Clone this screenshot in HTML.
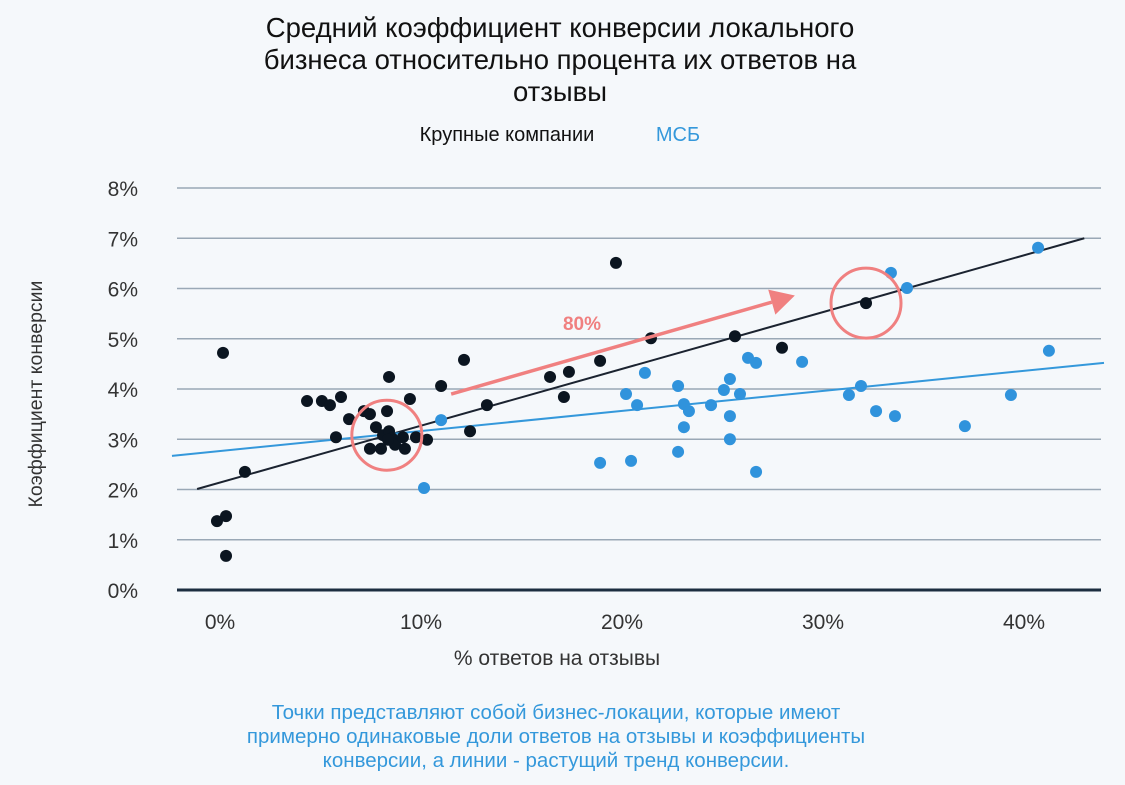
<!DOCTYPE html>
<html><head><meta charset="utf-8"><style>
body{margin:0;background:#f5f8fb;width:1125px;height:785px;overflow:hidden;font-family:"Liberation Sans","Noto Sans CJK SC",sans-serif}
svg{position:absolute;left:0;top:0}
</style></head><body>
<svg id="chart" width="1125" height="785">
<text x="560" y="37" text-anchor="middle" font-size="27.5" fill="#111"><tspan x="560">Средний коэффициент конверсии локального</tspan><tspan x="560" dy="32">бизнеса относительно процента их ответов на</tspan><tspan x="560" dy="32">отзывы</tspan></text>
<text x="507" y="141" text-anchor="middle" font-size="20" fill="#111">Крупные компании</text>
<text x="678" y="141" text-anchor="middle" font-size="20" fill="#3498db">МСБ</text>
<g id="grid"></g>
<g id="yticks"></g>
<g id="xticks"></g>
<g id="marks"></g>
<text x="0" y="0" transform="translate(42,394) rotate(-90)" text-anchor="middle" font-size="19.5" fill="#333">Коэффициент конверсии</text>
<text x="557" y="665" text-anchor="middle" font-size="21" fill="#333">% ответов на отзывы</text>
<text x="556" y="719" text-anchor="middle" font-size="20.5" fill="#3498db"><tspan x="556">Точки представляют собой бизнес-локации, которые имеют</tspan><tspan x="556" dy="24">примерно одинаковые доли ответов на отзывы и коэффициенты</tspan><tspan x="556" dy="24">конверсии, а линии - растущий тренд конверсии.</tspan></text>
</svg>
<script>
const yTicks=[0,1,2,3,4,5,6,7,8];
const xTicks=[0,10,20,30,40];
const largeX=[0.15,-0.15,0.30,0.30,1.24,4.33,5.07,5.47,6.02,5.77,6.42,7.16,7.46,8.41,8.31,9.45,7.76,7.46,8.01,8.11,8.41,8.56,8.71,8.36,9.10,9.20,9.75,10.30,11.00,12.14,12.44,13.28,19.70,16.42,17.36,17.11,18.91,21.44,25.62,27.96,32.14];
const largeY=[4.72,1.37,1.47,0.68,2.35,3.76,3.76,3.68,3.84,3.04,3.40,3.56,3.50,4.24,3.56,3.80,3.24,2.81,2.81,3.08,3.16,3.02,2.89,2.99,3.04,2.81,3.04,2.99,4.06,4.58,3.16,3.68,6.51,4.24,4.34,3.84,4.56,5.01,5.05,4.82,5.71];
const smbX=[11.00,10.15,40.70,33.38,34.18,41.24,28.96,26.27,26.67,25.37,25.07,25.87,21.14,22.79,20.20,20.75,23.08,23.33,24.43,25.37,23.08,25.37,22.79,18.91,20.45,26.67,31.89,31.29,32.64,33.58,37.06,39.35];
const smbY=[3.38,2.03,6.81,6.31,6.01,4.76,4.54,4.62,4.52,4.20,3.98,3.90,4.32,4.06,3.90,3.68,3.70,3.56,3.68,3.46,3.24,3.00,2.75,2.53,2.57,2.35,4.06,3.88,3.56,3.46,3.26,3.88];
const trendLargeX=[-1.14,43.0], trendLargeY=[2.01,7.0];
const trendSmbX=[-2.39,43.98], trendSmbY=[2.67,4.52];
const arrowX=[11.5,28.6], arrowY=[3.9,5.86];
const circleX=[8.3,32.14], circleY=[3.08,5.71];
const X=v=>220+20.1*v, Y=v=>590-50.25*v;
const NS='http://www.w3.org/2000/svg';
function mk(tag,parent,attrs){const e=document.createElementNS(NS,tag);for(const k in attrs)e.setAttribute(k,attrs[k]);parent.appendChild(e);return e;}
const grid=document.getElementById('grid'),yt=document.getElementById('yticks'),xt=document.getElementById('xticks'),m=document.getElementById('marks');
yTicks.forEach(t=>{
 const l=mk('line',grid,{x1:177,x2:1101,y1:Y(t),y2:Y(t),stroke:t===0?'#1c2e40':'#9aa8b6','stroke-width':t===0?3:1.5});
 
 
 const tx=mk('text',yt,{x:138,y:Y(t)+8,'text-anchor':'end','font-size':21,fill:'#333'});tx.textContent=t+'%';
 
 
});
xTicks.forEach(t=>{
 const tx=mk('text',xt,{x:X(t),y:629,'text-anchor':'middle','font-size':21,fill:'#333'});tx.textContent=t+'%';
 
 
});
const tl=mk('line',m,{x1:X(trendLargeX[0]),y1:Y(trendLargeY[0]),x2:X(trendLargeX[1]),y2:Y(trendLargeY[1]),stroke:'#1b2330','stroke-width':2});


const ts=mk('line',m,{x1:X(trendSmbX[0]),y1:Y(trendSmbY[0]),x2:X(trendSmbX[1]),y2:Y(trendSmbY[1]),stroke:'#3498db','stroke-width':2});


smbX.forEach((v,i)=>{const c=mk('circle',m,{cx:X(v),cy:Y(smbY[i]),r:6,fill:'#3093dc'});
 
 });
largeX.forEach((v,i)=>{const c=mk('circle',m,{cx:X(v),cy:Y(largeY[i]),r:6,fill:'#0b1520'});
 
 });
circleX.forEach((v,i)=>{const c=mk('circle',m,{cx:X(v),cy:Y(circleY[i]),r:35,fill:'none',stroke:'#f08080','stroke-width':3});
 
 });
const x1=X(arrowX[0]),y1=Y(arrowY[0]),x2=X(arrowX[1]),y2=Y(arrowY[1]);
const ang=Math.atan2(y2-y1,x2-x1),hl=24;
const bx=x2-hl*Math.cos(ang),by=y2-hl*Math.sin(ang);
const ar=mk('line',m,{x1:x1,y1:y1,x2:bx,y2:by,stroke:'#f08080','stroke-width':3.5});


const px=-Math.sin(ang)*13,py=Math.cos(ang)*13;
const hd=mk('polygon',m,{points:`${x2},${y2} ${bx+px},${by+py} ${bx-px},${by-py}`,fill:'#f08080'});


const lb=mk('text',m,{x:582,y:330,'text-anchor':'middle','font-size':19,'font-weight':'bold',fill:'#f08080'});lb.textContent='80%';


</script>
</body></html>
